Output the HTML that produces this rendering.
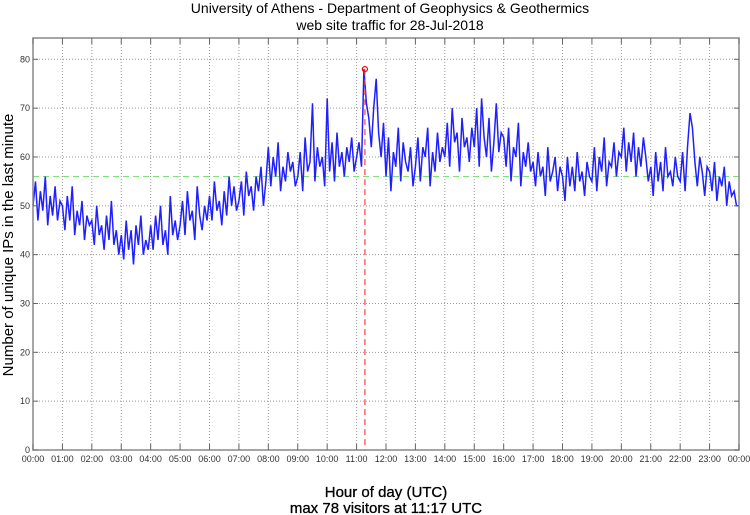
<!DOCTYPE html>
<html><head><meta charset="utf-8"><style>
body{margin:0;background:#fff;}
svg{display:block;font-family:"Liberation Sans",sans-serif;}
</style></head><body>
<svg id="chart" width="750" height="515" viewBox="0 0 750 515" xmlns="http://www.w3.org/2000/svg">
<text x="390" y="13" font-size="14" text-anchor="middle">University of Athens - Department of Geophysics &amp; Geothermics</text>
<text x="390" y="30" font-size="14" text-anchor="middle">web site traffic for 28-Jul-2018</text>
<text transform="translate(13,245) rotate(-90)" font-size="15" text-anchor="middle">Number of unique IPs in the last minute</text>
<text x="386" y="497" font-size="15" text-anchor="middle" stroke="#000" stroke-width="0.3">Hour of day (UTC)</text>
<text x="386" y="513" font-size="15" text-anchor="middle" stroke="#000" stroke-width="0.3">max 78 visitors at 11:17 UTC</text>
<g id="grid"></g>
<g id="marks"></g>
<rect x="33" y="38" width="706" height="412" fill="none" stroke="#888" stroke-width="1.5"/>
<g id="axes"></g>
</svg>
<script>
const yTicks=[0,10,20,30,40,50,60,70,80];
const xTickLabels=["00:00","01:00","02:00","03:00","04:00","05:00","06:00","07:00","08:00","09:00","10:00","11:00","12:00","13:00","14:00","15:00","16:00","17:00","18:00","19:00","20:00","21:00","22:00","23:00","00:00"];
const meanLevel=56;
const maxValue=78;
const maxHour=11+17/60;
const stepMinutes=5;
const visitors=[
50,55,47,53,49,56,46,52,48,54,47,51,
50,45,52,47,54,44,49,46,51,43,48,46,
47,42,50,44,46,41,48,43,51,42,45,40,
44,39,47,41,45,38,46,42,48,40,43,41,
46,41,48,43,50,42,45,40,52,44,47,43,
46,51,44,53,47,49,43,54,48,45,50,47,
52,47,55,49,51,46,53,48,56,50,54,49,
51,55,48,57,52,54,49,56,53,58,50,55,
62,54,60,56,63,53,58,55,61,57,59,54,
56,61,53,64,57,59,71,55,62,58,60,54,
72,57,63,55,65,58,61,56,62,59,64,57,
60,63,58,78,71,68,62,70,76,65,60,67,
56,64,53,61,58,66,55,63,59,57,62,54,
58,64,55,62,60,66,54,61,57,65,59,62,
60,67,58,70,63,65,57,68,62,64,59,66,
62,70,58,72,64,60,68,57,63,71,61,65,
64,58,66,55,62,60,67,54,61,58,63,57,
59,54,61,56,58,52,62,55,57,60,53,58,
56,51,60,54,58,53,61,55,57,52,59,56,
55,62,53,60,57,64,54,59,58,63,56,61,
60,66,57,63,59,65,56,62,58,64,60,55,
58,52,61,55,59,53,62,56,57,54,60,56,
55,61,53,62,69,66,59,54,60,57,52,58,
57,53,59,51,56,54,58,50,55,52,53,50,
50];
const NS="http://www.w3.org/2000/svg";
const L=33,R=739,T=38,B=450;
const xs=h=>L+h*(R-L)/24;
const ys=v=>B-v*(B-59.3)/80;
function mk(tag,attrs,parent){const e=document.createElementNS(NS,tag);for(const k in attrs)e.setAttribute(k,attrs[k]);parent.appendChild(e);return e;}
const grid=document.getElementById('grid'),marks=document.getElementById('marks'),axes=document.getElementById('axes');
yTicks.forEach(v=>{
  if(v>0&&v<90){const g=mk('line',{x1:L,x2:R,y1:ys(v),y2:ys(v),stroke:'#999','stroke-dasharray':'1,2','stroke-width':1},grid);
  
  }
  const t=mk('line',{x1:L,x2:L+5,y1:ys(v),y2:ys(v),stroke:'#666'},axes);
  
  
  const t2=mk('line',{x1:R-5,x2:R,y1:ys(v),y2:ys(v),stroke:'#666'},axes);
  
  
  const lb=mk('text',{x:L-3,y:ys(v)+3,'font-size':9,'text-anchor':'end',fill:'#333'},axes);
  lb.textContent=v;
  
  
});
xTickLabels.forEach((s,i)=>{
  const x=xs(i);
  if(i>0&&i<24){const g=mk('line',{x1:x,x2:x,y1:T,y2:B,stroke:'#999','stroke-dasharray':'1,2','stroke-width':1},grid);
  
  }
  const t=mk('line',{x1:x,x2:x,y1:B-6,y2:B,stroke:'#666'},axes);
  
  
  const t2=mk('line',{x1:x,x2:x,y1:T,y2:T+6,stroke:'#666'},axes);
  
  
  const lb=mk('text',{x:x,y:B+12,'font-size':9,'text-anchor':'middle',fill:'#333'},axes);
  lb.textContent=s;
  
  
});
const avg=mk('line',{x1:L,x2:R,y1:ys(meanLevel),y2:ys(meanLevel),stroke:'#7de07d','stroke-dasharray':'6,4','stroke-width':1},marks);


const pts=visitors.map((v,i)=>xs(i*stepMinutes/60).toFixed(1)+','+ys(v).toFixed(1)).join(' ');
const line=mk('polyline',{points:pts,fill:'none',stroke:'#2020ff','stroke-width':1.5},marks);


const vl=mk('line',{x1:xs(maxHour),x2:xs(maxHour),y1:ys(maxValue),y2:B,stroke:'#ff4040','stroke-dasharray':'6,4','stroke-width':1.2},marks);


const c=mk('circle',{cx:xs(maxHour),cy:ys(maxValue),r:2.5,fill:'none',stroke:'#ff0000','stroke-width':1.2},marks);


</script>
</body></html>
